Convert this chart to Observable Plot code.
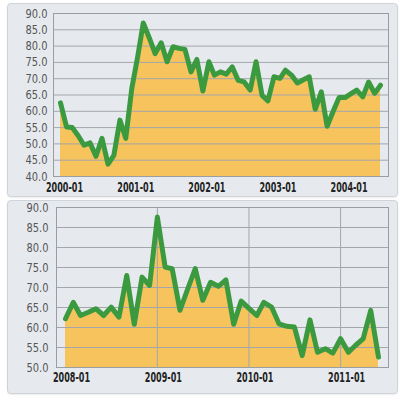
<!DOCTYPE html>
<html><head><meta charset="utf-8">
<script src="https://cdn.jsdelivr.net/npm/d3@7"></script>
<script src="https://cdn.jsdelivr.net/npm/@observablehq/plot@0.6"></script>
<style>
body{margin:0;background:#fff;width:402px;height:397px;position:relative;overflow:hidden}
.panel{position:absolute;left:7px;width:391px;height:194px;background:#e6eaee;border:1px solid #d0d4d8;border-radius:4px;box-sizing:border-box;box-shadow:0 1px 2px rgba(0,0,0,0.08)}
.panel svg{position:absolute;left:0;top:0}
</style></head><body>
<div id="p1" class="panel" style="top:3px"></div>
<div id="p2" class="panel" style="top:200px"></div>
<script>
// Panel 1: monthly values from 2000-01
const topStart = "2000-01";
const topValues = [62.6,55.2,55.0,52.5,49.6,50.3,46.2,51.7,43.8,46.5,57.3,51.7,
  67.0,77.0,87.1,82.5,77.7,81.0,75.2,79.8,79.3,79.0,72.1,75.9,
  66.2,75.2,71.1,72.1,71.4,73.6,69.5,69.0,66.5,75.2,64.9,63.2,
  70.6,70.1,72.6,71.1,68.7,69.7,70.6,60.6,66.0,55.4,60.0,64.2,
  64.2,65.4,66.5,64.4,69.0,65.5,68.0];
const topYTicks = [40,45,50,55,60,65,70,75,80,85,90];
const topXTicks = ["2000-01","2001-01","2002-01","2003-01","2004-01"];

// Panel 2: monthly values from 2008-01
const botStart = "2008-01";
const botValues = [62.2,66.3,63.0,63.8,64.7,63.0,65.1,62.6,73.0,60.8,72.6,70.5,
  87.6,75.1,74.7,64.3,69.5,74.7,66.8,71.3,70.3,71.9,60.8,66.6,
  64.8,63.0,66.3,65.1,60.9,60.3,60.1,53.0,61.9,53.8,54.7,53.6,
  57.2,53.8,55.5,57.2,64.3,52.6];
const botYTicks = [50,55,60,65,70,75,80,85,90];
const botXTicks = ["2008-01","2009-01","2010-01","2011-01"];

const parse = d3.utcParse("%Y-%m");
const fmt = d3.utcFormat("%Y-%m");
const toRows = (start, vals) => vals.map((v, i) => ({date: d3.utcMonth.offset(parse(start), i), v}));

const FONT = "'DejaVu Sans Condensed','Liberation Sans Narrow',sans-serif";
const GREEN = "#3b9a40", FILL = "#f6c35c", GRID = "#a3a7ab";

function panel(rows, yTicks, xTicks, opts) {
  const ymin = yTicks[0], ymax = yTicks[yTicks.length - 1];
  const xt = xTicks.map(parse);
  const marks = [
    Plot.areaY(rows, {x: "date", y1: ymin, y2: "v", fill: FILL}),
    Plot.ruleY(yTicks.slice(1, -1), {stroke: GRID, strokeWidth: 1}),
  ];
  if (opts.vgrid) marks.push(Plot.ruleX(xt.slice(1), {stroke: GRID, strokeWidth: 1}));
  marks.push(
    Plot.frame({stroke: "#9a9ea2"}),
    Plot.lineY(rows, {x: "date", y: "v", stroke: GREEN, strokeWidth: 5, strokeLinejoin: "round", strokeLinecap: "round"}),
    Plot.axisY(yTicks, {label: null, tickFormat: d => d.toFixed(1), tickSize: 0, tickPadding: opts.yPad, fontSize: 12.5, fill: "#555"}),
    Plot.axisX(xt, {label: null, tickFormat: fmt, tickSize: 0, tickPadding: opts.xPad, fontSize: 14, fontWeight: "bold", fill: "#222", dx: opts.xdx})
  );
  const svg = Plot.plot({
    width: 389, height: 192,
    marginLeft: opts.ml, marginRight: 9, marginTop: opts.mt, marginBottom: opts.mb,
    style: {fontFamily: FONT, fontSize: "13px", background: "transparent", overflow: "visible"},
    x: {type: "utc", label: null, domain: [rows[0].date, rows[rows.length - 1].date], insetLeft: opts.il, insetRight: opts.ir},
    y: {label: null, domain: [ymin, ymax]},
    marks
  });
  // narrow the tick labels to match the condensed face of the original
  svg.querySelectorAll('g[aria-label="x-axis tick label"] text').forEach(t => {
    t.setAttribute("textLength", 37); t.setAttribute("lengthAdjust", "spacingAndGlyphs");
  });
  svg.querySelectorAll('g[aria-label="y-axis tick label"] text').forEach(t => {
    t.setAttribute("textLength", 22); t.setAttribute("lengthAdjust", "spacingAndGlyphs");
  });
  return svg;
}

document.getElementById("p1").appendChild(panel(toRows(topStart, topValues), topYTicks, topXTicks,
  {ml: 45, mt: 9, mb: 20, il: 7, ir: 8, yPad: 6, xPad: 6, xdx: 4, vgrid: false}));
document.getElementById("p2").appendChild(panel(toRows(botStart, botValues), botYTicks, botXTicks,
  {ml: 48, mt: 6, mb: 26, il: 9, ir: 10, yPad: 8, xPad: 5, xdx: 6, vgrid: true}));
</script>
</body></html>
